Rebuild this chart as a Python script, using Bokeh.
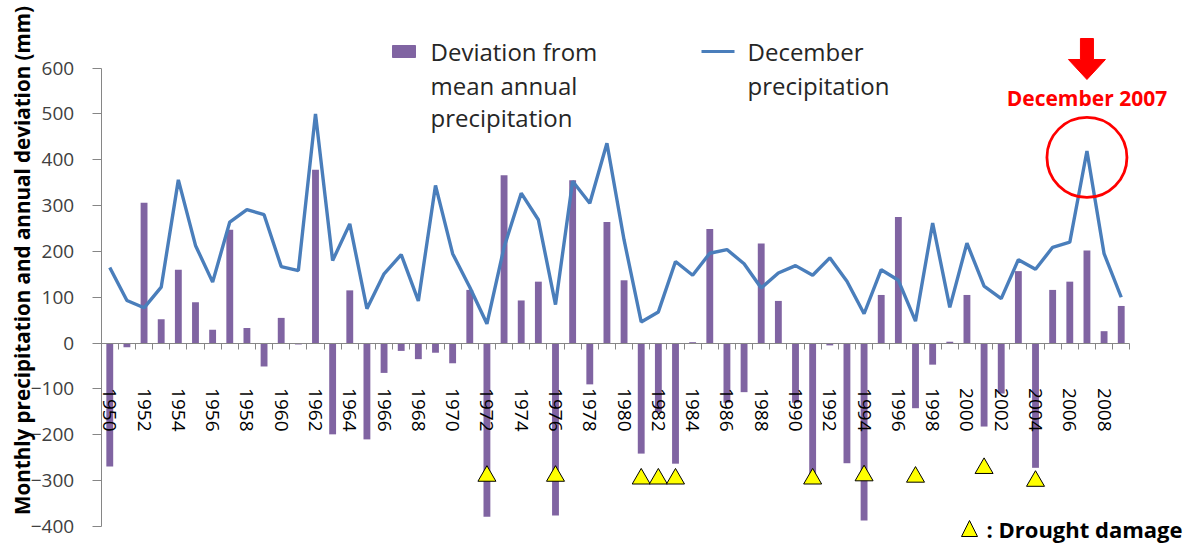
import math
from bokeh.plotting import figure
from bokeh.models import (Range1d, FixedTicker, LinearAxis, Label, PolyAnnotation, Arrow)
from bokeh.embed import file_html
from bokeh.resources import INLINE

# ---------------- data ----------------
years = list(range(1950, 2010))
dec_precip = [165, 93, 77, 122, 356, 213, 133, 264, 291, 280,
              167, 158, 500, 180, 260, 75, 151, 193, 92, 344,
              195, 122, 42, 209, 327, 269, 84, 353, 305, 436,
              225, 46, 68, 178, 148, 196, 204, 173, 120, 153,
              169, 148, 186, 135, 64, 160, 137, 48, 262, 78,
              218, 124, 97, 182, 161, 209, 220, 419, 195, 100]
deviation = [-269, -9, 306, 52, 160, 89, 29, 247, 33, -51,
             55, -3, 378, -199, 115, -210, -65, -17, -35, -21,
             -44, 116, -379, 366, 93, 134, -376, 355, -90, 264,
             137, -241, -150, -263, 2, 249, -130, -107, 217, 92,
             -130, -300, -5, -262, -387, 105, 275, -142, -47, 3,
             105, -182, -110, 157, -272, 116, 134, 202, 26, 81]
drought_years = [1972, 1976, 1981, 1982, 1983, 1991, 1994, 1997, 2001, 2004]
drought_marker_level = [-290, -290, -296, -296, -296, -296, -289, -292, -273, -301]
tick_years = list(range(1950, 2010, 2))
y_ticks = list(range(-400, 601, 100))
highlight_year = 2007
highlight_circle_y = 405

# ---------------- style / layout ----------------
FONT = "Open Sans"
PURPLE = "#8064A2"
BLUE = "#4A7EBB"
AXIS_GREY = "#868686"

W, H = 1195, 545
X_LO, X_HI = years[0] - 0.5, years[-1] + 0.5
Y_LO, Y_HI = y_ticks[0], y_ticks[-1]
LEFT_PX, RIGHT_PX = 100.7, 1129.3      # where the year axis starts / ends
TOP_PX, BOTTOM_PX = 67.5, 526.0        # where 600 / -400 sit
PX_PER_YEAR = (RIGHT_PX - LEFT_PX) / (X_HI - X_LO)
PX_PER_MM = (BOTTOM_PX - TOP_PX) / (Y_HI - Y_LO)
BASE_SHIFT = -9                         # compensation for text baseline placement


def X(px):
    """canvas pixel -> data x"""
    return X_LO + (px - LEFT_PX) / PX_PER_YEAR


def Y(py):
    """canvas pixel -> data y"""
    return Y_HI - (py - TOP_PX) / PX_PER_MM


p = figure(width=W, height=H, min_border=0,
           x_range=Range1d(X(0), X(W)), y_range=Range1d(Y(H), Y(0)),
           x_axis_location=None, y_axis_location=None,
           output_backend="svg", toolbar_location=None)
p.min_border_left = p.min_border_right = p.min_border_top = p.min_border_bottom = 0
p.outline_line_color = None
p.background_fill_color = "white"
p.border_fill_color = "white"

# y axis (fixed at left end of the year axis)
ya = LinearAxis(fixed_location=X_LO, bounds=(Y_LO, Y_HI), ticker=FixedTicker(ticks=y_ticks))
ya.axis_line_color = AXIS_GREY
ya.major_tick_line_color = AXIS_GREY
ya.major_tick_out = 9
ya.major_tick_in = 0
ya.minor_tick_line_color = None
ya.major_label_standoff = 18
ya.major_label_text_font = FONT
ya.major_label_text_font_size = "19px"
ya.major_label_text_color = "#404040"
p.add_layout(ya, "left")

# x axis crossing at zero
xa = LinearAxis(fixed_location=0, bounds=(X_LO, X_HI),
                ticker=FixedTicker(ticks=tick_years,
                                   minor_ticks=[y - 0.5 for y in years] + [years[-1] + 0.5]))
xa.axis_line_color = AXIS_GREY
xa.major_tick_out = 0
xa.major_tick_in = 0
xa.minor_tick_line_color = AXIS_GREY
xa.minor_tick_out = 6
xa.minor_tick_in = 0
xa.major_label_orientation = -math.pi / 2
xa.major_label_standoff = 39
xa.major_label_text_font = FONT
xa.major_label_text_font_size = "19px"
xa.major_label_text_color = "black"
p.add_layout(xa, "below")
p.grid.visible = False

# glyphs
p.vbar(x=years, top=deviation, bottom=0, width=0.4, fill_color=PURPLE, line_color=None)
p.line(x=years, y=dec_precip, line_width=3.4, line_color=BLUE)
p.scatter(x=drought_years, y=drought_marker_level, marker="triangle", size=18,
          fill_color="#FFFF00", line_color="black", line_width=1)
p.scatter(x=[highlight_year], y=[highlight_circle_y], marker="circle", size=80,
          fill_color=None, line_color="#FF0000", line_width=2.8)

# red arrow above the highlight
cx = LEFT_PX + (highlight_year - X_LO) * PX_PER_YEAR
p.add_layout(PolyAnnotation(
    xs=[X(cx - 6.5), X(cx + 6.5), X(cx + 6.5), X(cx + 18.5), X(cx), X(cx - 18.5), X(cx - 6.5)],
    ys=[Y(38), Y(38), Y(59), Y(59), Y(79), Y(59), Y(59)],
    fill_color="#FF0000", fill_alpha=1, line_color="#FF0000", line_alpha=1, line_width=1))
p.add_layout(Label(x=highlight_year, y=Y(106 + BASE_SHIFT), text="December 2007", text_align="center",
                   text_baseline="alphabetic", text_font=FONT, text_font_style="bold",
                   text_font_size="21px", text_color="#FF0000"))

# legend
p.add_layout(PolyAnnotation(xs=[X(392), X(415), X(415), X(392)], ys=[Y(45), Y(45), Y(57), Y(57)],
                            fill_color=PURPLE, fill_alpha=1, line_color=PURPLE, line_alpha=1))
for txt, base in [("Deviation from", 60), ("mean annual", 94), ("precipitation", 126)]:
    p.add_layout(Label(x=X(430), y=Y(base + BASE_SHIFT), text=txt, text_font=FONT,
                       text_font_size="24px", text_color="#262626", text_baseline="alphabetic"))
p.add_layout(Arrow(x_start=X(701), y_start=Y(51), x_end=X(734), y_end=Y(51),
                   start=None, end=None, line_color=BLUE, line_width=3))
for txt, base in [("December", 60), ("precipitation", 94)]:
    p.add_layout(Label(x=X(747), y=Y(base + BASE_SHIFT), text=txt, text_font=FONT,
                       text_font_size="24px", text_color="#262626", text_baseline="alphabetic"))

# drought legend
p.add_layout(PolyAnnotation(xs=[X(969), X(977), X(961)], ys=[Y(520), Y(536), Y(536)],
                            fill_color="#FFFF00", fill_alpha=1, line_color="black", line_alpha=1))
p.add_layout(Label(x=X(986), y=Y(537 + BASE_SHIFT), text=": Drought damage", text_font=FONT,
                   text_font_style="bold", text_font_size="22px", text_color="black",
                   text_baseline="alphabetic"))

# y axis title
p.add_layout(Label(x=X(21), y=Y(260), text="Monthly precipitation and annual deviation (mm)",
                   angle=math.pi / 2, text_align="center", text_baseline="middle",
                   text_font=FONT, text_font_style="bold", text_font_size="20.6px",
                   text_color="black"))

open("out.html", "w").write(file_html(p, INLINE))
